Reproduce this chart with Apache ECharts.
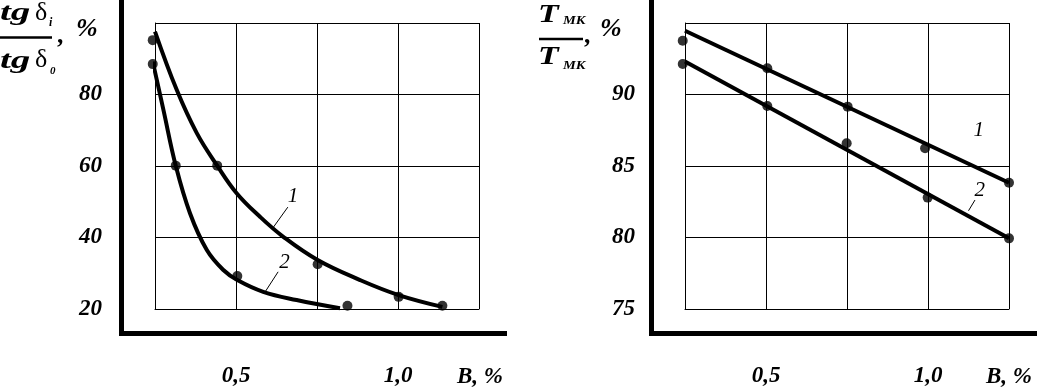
<!DOCTYPE html>
<html>
<head>
<meta charset="utf-8">
<script src="https://cdn.jsdelivr.net/npm/echarts@6/dist/echarts.min.js"></script>
<style>
html,body{margin:0;padding:0;background:#fff;}
#c{width:1046px;height:391px;}
</style>
</head>
<body>
<div id="c"></div>
<script>
// ---- Data ----
// Left panel: tg δi / tg δ0, % versus B, %
const leftPts1X = [0.243, 0.442, 0.752, 1.002, 1.137];
const leftPts1Y = [95.2, 60.1, 32.5, 23.4, 20.9];
const leftPts2X = [0.243, 0.314, 0.504, 0.844];
const leftPts2Y = [88.5, 60.1, 29.2, 20.9];
// fitted curves
const leftCurve1X = [0.25, 0.317, 0.379, 0.442, 0.502, 0.574, 0.646, 0.752, 0.883, 1.002, 1.137];
const leftCurve1Y = [97.6, 81.3, 69.2, 60.1, 52.4, 45.8, 40.2, 33.7, 28.1, 23.9, 20.6];
const leftCurve2X = [0.243, 0.276, 0.314, 0.358, 0.410, 0.461, 0.504, 0.584, 0.687, 0.821];
const leftCurve2Y = [89.2, 75.7, 60.1, 46.8, 36.5, 30.9, 28.1, 24.8, 22.5, 20.2];
// Right panel: T_MK / T_MK, % versus B, %
const rightPts1X = [0.243, 0.504, 0.752, 0.991, 1.25];
const rightPts1Y = [93.76, 91.83, 89.15, 86.24, 83.83];
const rightPts2X = [0.243, 0.504, 0.749, 0.999, 1.25];
const rightPts2Y = [92.13, 89.2, 86.59, 82.79, 79.94];
const rightLine1X = [0.25, 1.25];
const rightLine1Y = [94.46, 83.83];
const rightLine2X = [0.25, 1.25];
const rightLine2Y = [92.3, 79.94];
// axis ticks
const xMin = 0.25, xMax = 1.25, xStep = 0.25;
const xTickLabels = {'0.5': '0,5', '1': '1,0'};
const leftYMin = 20, leftYMax = 100, leftYStep = 20;
const rightYMin = 75, rightYMax = 95, rightYStep = 5;
// curve annotations [x, y] in data units
const leftLabel1 = [0.676, 51.6], leftLead1 = [[0.660, 48.5], [0.614, 42.7]];
const leftLabel2 = [0.650, 33.0], leftLead2 = [[0.630, 30.4], [0.590, 24.8]];
const rightLabel1 = [1.157, 87.45];
const rightLabel2 = [1.160, 83.32], rightLead2 = [[1.145, 82.62], [1.125, 81.87]];

const zip = (xs, ys) => xs.map((x, i) => [x, ys[i]]);
const tickStyle = {color: '#000', fontFamily: 'Liberation Serif', fontStyle: 'italic', fontWeight: 'bold', fontSize: 23};
const tickRich = {t: tickStyle};

function xAxis(gi) {
  return {
    type: 'value', gridIndex: gi, min: xMin, max: xMax, interval: xStep,
    axisLine: {show: true, lineStyle: {color: '#000', width: 1}},
    axisTick: {show: false},
    splitLine: {show: true, lineStyle: {color: '#000', width: 1, type: 'solid'}},
    axisLabel: Object.assign({margin: 56, rich: tickRich, formatter: v => {
      const s = xTickLabels[String(+v.toFixed(2))];
      return s ? '{t|' + s + '}' : '';
    }}, tickStyle)
  };
}
function yAxis(gi, mn, mx, st, margin) {
  return {
    type: 'value', gridIndex: gi, min: mn, max: mx, interval: st,
    axisLine: {show: true, lineStyle: {color: '#000', width: 1}},
    axisTick: {show: false},
    splitLine: {show: true, lineStyle: {color: '#000', width: 1, type: 'solid'}},
    axisLabel: Object.assign({margin: margin, showMaxLabel: false, rich: tickRich,
      formatter: v => (v === mx ? '' : '{t|' + v + '}')}, tickStyle)
  };
}
function curve(gi, xs, ys, smooth) {
  return {type: 'line', xAxisIndex: gi, yAxisIndex: gi, data: zip(xs, ys), smooth: smooth,
    showSymbol: false, symbol: 'none', clip: false, silent: true,
    lineStyle: {color: '#000', width: 4}, z: 3};
}
function pts(gi, xs, ys) {
  return {type: 'scatter', xAxisIndex: gi, yAxisIndex: gi, data: zip(xs, ys), clip: false,
    symbol: 'circle', symbolSize: 10, itemStyle: {color: '#000'}, silent: true, z: 4};
}

const chart = echarts.init(document.getElementById('c'), null, {renderer: 'canvas'});
chart.setOption({
  animation: false,
  backgroundColor: '#fff',
  grid: [
    {left: 155, top: 23, width: 324, height: 286, containLabel: false},
    {left: 685, top: 23, width: 324, height: 286, containLabel: false}
  ],
  xAxis: [xAxis(0), xAxis(1)],
  yAxis: [yAxis(0, leftYMin, leftYMax, leftYStep, 53), yAxis(1, rightYMin, rightYMax, rightYStep, 50)],
  series: [
    curve(0, leftCurve1X, leftCurve1Y, 0.4),
    curve(0, leftCurve2X, leftCurve2Y, 0.4),
    pts(0, leftPts1X, leftPts1Y),
    pts(0, leftPts2X, leftPts2Y),
    curve(1, rightLine1X, rightLine1Y, false),
    curve(1, rightLine2X, rightLine2Y, false),
    pts(1, rightPts1X, rightPts1Y),
    pts(1, rightPts2X, rightPts2Y)
  ]
});

const px = (gi, p) => chart.convertToPixel({xAxisIndex: gi, yAxisIndex: gi}, p);
const g = [];
// text: font given as a full CSS font string; sx = horizontal stretch
function txt(x, y, text, font, sx, align) {
  g.push({type: 'text', silent: true, z: 10, x: x, y: y, scaleX: sx || 1,
    style: {x: 0, y: 0, text: text, fill: '#000', font: font, align: align || 'left', verticalAlign: 'middle'}});
}
function line(x1, y1, x2, y2, w) {
  g.push({type: 'line', silent: true, z: 10, shape: {x1, y1, x2, y2}, style: {stroke: '#000', lineWidth: w}});
}
const BI = s => 'italic bold ' + s + 'px "Liberation Serif"';
const IT = s => 'italic normal ' + s + 'px "Liberation Serif"';
const RG = s => 'normal normal ' + s + 'px "Liberation Serif"';
// heavy frames
line(121.5, 0, 121.5, 336, 5);
line(119, 333.5, 507, 333.5, 5);
line(651.5, 0, 651.5, 336, 5);
line(649, 333.5, 1037, 333.5, 5);
// left title: tgδi / tgδ0 , %
txt(0, 13, 'tg', BI(26), 1.5);
txt(35, 13, 'δ', RG(26));
txt(49, 23, 'i', BI(12));
line(0, 37.5, 52, 37.5, 2.5);
txt(0, 61, 'tg', BI(26), 1.5);
txt(35, 60, 'δ', RG(26));
txt(50, 71, '0', BI(11));
txt(58, 36, ',', BI(26));
txt(76, 29, '%', BI(26));
// right title: T_MK / T_MK , %
txt(538, 15, 'T', BI(26), 1.3);
txt(563, 21, 'МК', BI(12), 1.2);
line(539, 39, 583, 39, 2.5);
txt(538, 57, 'T', BI(26), 1.3);
txt(563, 66, 'МК', BI(12), 1.2);
txt(585, 36, ',', BI(26));
txt(600, 29, '%', BI(26));
// x axis names
txt(457, 377, 'B, %', BI(23));
txt(986, 377, 'B, %', BI(23));
// curve annotations
function ann(gi, pos, t, lead) {
  const p = px(gi, pos);
  txt(p[0], p[1], t, IT(21), 1, 'center');
  if (lead) {
    const a = px(gi, lead[0]), b = px(gi, lead[1]);
    line(a[0], a[1], b[0], b[1], 1);
  }
}
ann(0, leftLabel1, '1', leftLead1);
ann(0, leftLabel2, '2', leftLead2);
ann(1, rightLabel1, '1', null);
ann(1, rightLabel2, '2', rightLead2);
chart.setOption({graphic: g});
</script>
</body>
</html>
